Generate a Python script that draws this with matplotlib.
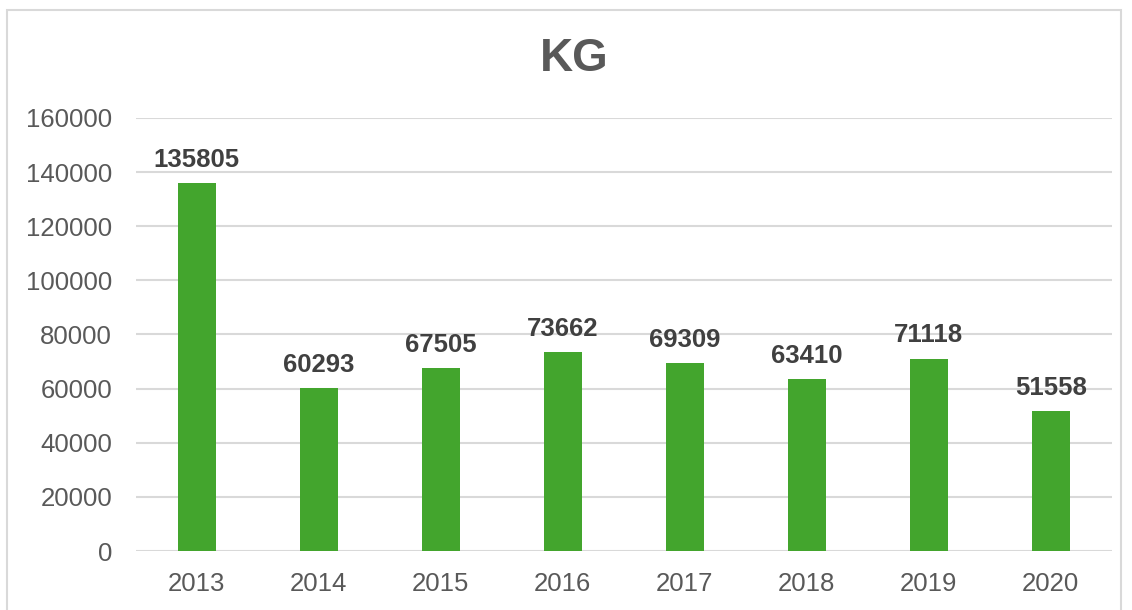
import matplotlib.pyplot as plt
from matplotlib.patches import Rectangle

plt.rcParams['font.family'] = ['Liberation Sans', 'DejaVu Sans']

years = ['2013', '2014', '2015', '2016', '2017', '2018', '2019', '2020']
kg = [135805, 60293, 67505, 73662, 69309, 63410, 71118, 51558]

text_color = '#595959'
bar_color = '#43A52D'

fig = plt.figure(figsize=(11.32, 6.10), dpi=100)
ax = fig.add_axes([0.120, 0.0967, 0.862, 0.710])

# light border around the chart area
fig.patches.append(Rectangle((0.006, -0.05), 0.984, 1.034, transform=fig.transFigure,
                             fill=False, edgecolor='#D9D9D9', linewidth=1.5))

x = range(len(years))
bars = ax.bar(x, kg, width=0.31, color=bar_color, zorder=3)

for i, v in enumerate(kg):
    ax.annotate(str(v), (i, v), xytext=(0, 8), textcoords='offset points',
                ha='center', va='bottom', fontsize=18.5, fontweight='bold', color='#404040')

ax.set_xlim(-0.5, len(years) - 0.5)
ax.set_ylim(0, 160000)
ax.set_yticks(range(0, 160001, 20000))
ax.set_xticks(list(x))
ax.set_xticklabels(years)
ax.tick_params(axis='both', length=0, labelsize=18.5, labelcolor=text_color)
ax.tick_params(axis='x', pad=15)
ax.tick_params(axis='y', pad=17)
ax.grid(axis='y', color='#D9D9D9', linewidth=1.5, zorder=0)
for s in ax.spines.values():
    s.set_visible(False)

fig.text(0.507, 0.903, 'KG', ha='center', va='center', fontsize=33,
         fontweight='bold', color=text_color)

fig.savefig('out.png', dpi=100)
